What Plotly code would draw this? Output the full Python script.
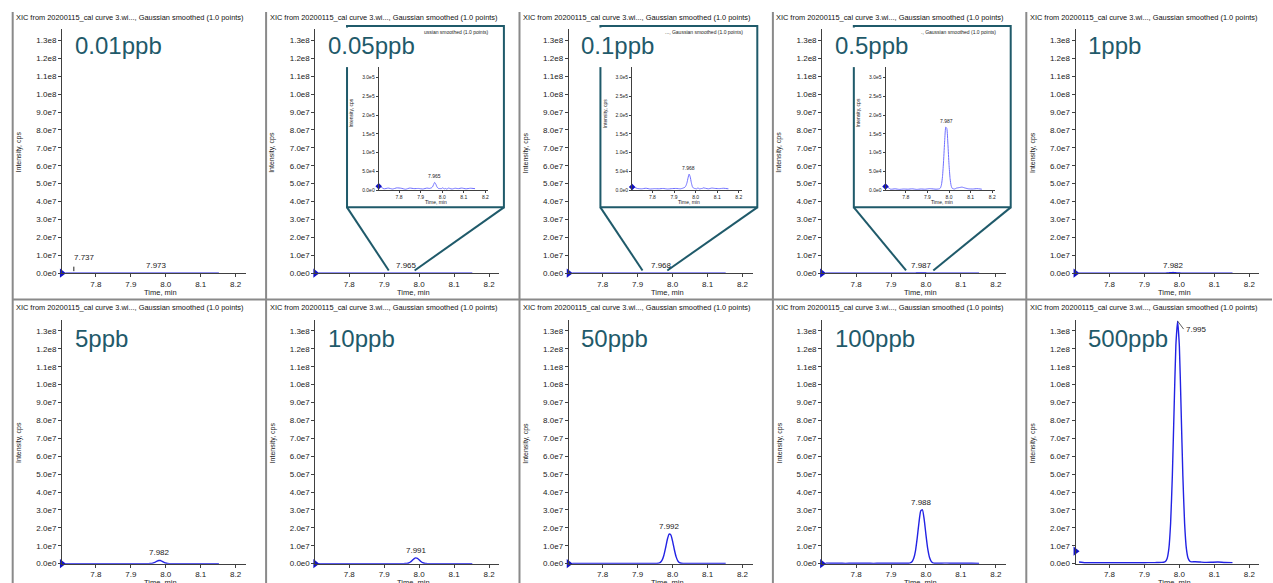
import plotly.graph_objects as go

W, H = 1273, 583          # reference frame (pixels) used for placing elements
FIG_H = 589               # figure height (compensates the slight vertical squeeze of the capture)

# ---------------- data ----------------
rt = [7.713, 7.73, 7.75, 7.77, 7.79, 7.81, 7.83, 7.85, 7.87, 7.89, 7.91, 7.93, 7.94,
      7.95, 7.955, 7.96, 7.965, 7.97, 7.975, 7.98, 7.985, 7.99, 7.995, 8.0, 8.005,
      8.01, 8.015, 8.02, 8.025, 8.03, 8.035, 8.045, 8.06, 8.075, 8.09, 8.11, 8.13, 8.152]

samples = ["0.01ppb", "0.05ppb", "0.1ppb", "0.5ppb", "1ppb",
           "5ppb", "10ppb", "50ppb", "100ppb", "500ppb"]

int_001 = [1500, 2200, 1800, 2500, 1600, 2100, 1900, 2300, 1700, 2000, 2400, 1800, 2100,
           2600, 3000, 3600, 4200, 4800, 5000, 4500, 3800, 3000, 2500, 2100, 1900,
           2200, 2000, 1800, 2100, 1900, 2300, 2000, 1700, 2200, 1900, 2100, 1800, 2000]
int_005 = [11000, 4000, 6000, 3500, 6500, 5500, 3000, 6000, 4500, 5000, 3500, 6000, 5000,
           6500, 9000, 15000, 21000, 17000, 10000, 6000, 4500, 5000, 4000, 6500, 5500,
           4000, 5000, 3500, 4500, 6000, 5000, 3500, 5500, 4500, 6000, 4000, 5500, 4500]
int_01 = [9000, 5000, 4000, 5500, 3500, 4500, 4000, 5000, 3500, 4500, 5000, 4000, 5500,
          8000, 12000, 20000, 33000, 43000, 36000, 21000, 10000, 6000, 5000, 4500, 4000,
          6000, 5000, 3500, 5000, 4500, 6500, 5500, 4000, 6000, 5000, 4500, 5500, 4000]
int_05 = [10000, 3000, 4000, 2500, 3500, 3000, 4000, 2500, 3500, 3000, 4500, 3500, 3000,
          3500, 4000, 6000, 14500, 37000, 79000, 132000, 168000, 164000, 122000, 69000, 31000,
          12000, 5200, 4000, 3500, 4500, 6000, 7000, 8500, 6000, 4000, 3500, 4500, 3000]
int_1 = [12000, 5000, 6000, 4000, 5000, 6000, 4000, 5000, 6000, 4500, 5000, 6000, 5500,
         7000, 11000, 28000, 71000, 153000, 256000, 328000, 319000, 236000, 134000, 60000, 22000,
         9000, 6000, 5000, 6000, 5000, 7000, 8000, 9000, 6000, 5000, 6000, 5000, 4000]
int_5 = [25000, 15000, 18000, 14000, 16000, 15000, 17000, 14000, 16000, 15000, 17000, 16000, 18000,
         30000, 62000, 175000, 440000, 890000, 1420000, 1780000, 1735000, 1320000, 785000, 370000, 142000,
         50000, 24000, 18000, 16000, 17000, 19000, 22000, 24000, 18000, 16000, 17000, 15000, 14000]
int_10 = [30000, 25000, 28000, 24000, 26000, 25000, 27000, 24000, 26000, 25000, 27000, 26000, 28000,
          27000, 31000, 52000, 135000, 378000, 916000, 1773000, 2698000, 3210000, 2980000, 2160000, 1226000,
          551000, 206000, 74000, 36000, 27000, 28000, 32000, 34000, 28000, 26000, 27000, 25000, 24000]
int_50 = [150000, 100000, 110000, 95000, 105000, 100000, 110000, 95000, 105000, 100000, 110000, 105000, 115000,
          110000, 140000, 260000, 710000, 1950000, 4600000, 8800000, 13500000, 16500000, 16100000, 12600000, 7900000,
          3950000, 1600000, 580000, 220000, 125000, 110000, 130000, 150000, 120000, 105000, 110000, 100000, 95000]
int_100 = [300000, 200000, 220000, 190000, 210000, 200000, 220000, 190000, 210000, 200000, 220000, 210000, 230000,
           250000, 420000, 1070000, 2970000, 7200000, 14400000, 23000000, 29500000, 30100000, 24600000, 16100000, 8400000,
           3600000, 1300000, 490000, 260000, 220000, 230000, 260000, 300000, 240000, 210000, 220000, 200000, 190000]
int_500 = [900000, 500000, 550000, 480000, 520000, 500000, 540000, 480000, 520000, 500000, 560000, 600000, 650000,
           700000, 800000, 1200000, 2900000, 8500000, 22700000, 49500000, 87000000, 122000000, 135500000, 121500000, 86000000,
           49000000, 22500000, 8500000, 3000000, 1400000, 1000000, 1100000, 900000, 700000, 750000, 900000, 650000, 600000]

series = [int_001, int_005, int_01, int_05, int_1, int_5, int_10, int_50, int_100, int_500]
for s in series:
    assert len(s) == len(rt)

peak_rt = [7.973, 7.965, 7.968, 7.987, 7.982, 7.982, 7.991, 7.992, 7.988, 7.995]
peak_text = ["7.973", "7.965", "7.968", "7.987", "7.982", "7.982", "7.991", "7.992", "7.988", "7.995"]
spike_rt = 7.737
spike_text = "7.737"
arrow_level = [0, 0, 0, 0, 0, 0, 0, 0, 0, 7.0e6]

y_ticks = [0, 1e7, 2e7, 3e7, 4e7, 5e7, 6e7, 7e7, 8e7, 9e7, 1e8, 1.1e8, 1.2e8, 1.3e8]
y_tick_text = ["0.0e0", "1.0e7", "2.0e7", "3.0e7", "4.0e7", "5.0e7", "6.0e7", "7.0e7",
               "8.0e7", "9.0e7", "1.0e8", "1.1e8", "1.2e8", "1.3e8"]
x_ticks = [7.8, 7.9, 8.0, 8.1, 8.2]
x_tick_text = ["7.8", "7.9", "8.0", "8.1", "8.2"]

inset_panels = [1, 2, 3]
inset_y_ticks = [0, 5e4, 1e5, 1.5e5, 2e5, 2.5e5, 3e5]
inset_y_text = ["0.0e0", "5.0e4", "1.0e5", "1.5e5", "2.0e5", "2.5e5", "3.0e5"]
zoom_lo = [7.913, 7.914, 7.943]
zoom_hi = [7.987, 7.985, 8.021]
inset_titles = ["ussian smoothed (1.0 points)", "..., Gaussian smoothed (1.0 points)",
                "., Gaussian smoothed (1.0 points)"]
panel_title = "XIC from 20200115_cal curve 3.wi..., Gaussian smoothed (1.0 points)"

# ---------------- styling / layout ----------------
FONT = "Liberation Sans, Arial, sans-serif"
TEAL = "#1f5a6a"
MAIN_BLUE = "#2222e4"
INSET_BLUE = "#6f6fff"
AX = "#404040"
X_RANGE = [7.703, 8.229]
Y_RANGE = [0, 1.362e8]
IX_RANGE = [7.706, 8.214]
IY_RANGE = [0, 3.28e5]
COL0, COLW, ROWH = 12.7, 253.6, 290.0


def fx(px):
    return px / W


def fy(py):
    return 1 - py / H


def sfx(n):
    return "" if n == 1 else str(n)


def paper_text(text, px, py, size, color="#222222", xanchor="center", yanchor="middle", angle=0):
    return dict(text=text, x=fx(px), y=fy(py), xref="paper", yref="paper", xanchor=xanchor,
                yanchor=yanchor, textangle=angle, showarrow=False,
                font=dict(family=FONT, size=size, color=color))


fig = go.Figure()
annotations, shapes, axes = [], [], {}


def axis_style(size, ticklen):
    return dict(showline=True, linecolor=AX, linewidth=1, ticks="outside", ticklen=ticklen,
                tickwidth=1, tickcolor=AX, showgrid=False, zeroline=False, fixedrange=True,
                tickfont=dict(family=FONT, size=size, color="#222222"))


for i, (name, vals) in enumerate(zip(samples, series)):
    r, c = divmod(i, 5)
    cb = COL0 + COLW * c
    oy = ROWH * r
    n = i + 1
    xa, ya = "x" + sfx(n), "y" + sfx(n)
    fig.add_trace(go.Scatter(x=rt, y=vals, mode="lines", xaxis=xa, yaxis=ya,
                             line=dict(color=MAIN_BLUE, width=1.4, shape="spline", smoothing=0.5),
                             hoverinfo="skip", showlegend=False))
    fig.add_trace(go.Scatter(x=[X_RANGE[0]], y=[arrow_level[i]], mode="markers", xaxis=xa, yaxis=ya,
                             marker=dict(symbol="triangle-right", size=8, color="#1212c8"),
                             cliponaxis=False, hoverinfo="skip", showlegend=False))
    axes["xaxis" + sfx(n)] = dict(domain=[fx(cb + 49.3), fx(cb + 233.3)], range=X_RANGE, anchor=ya,
                                  tickvals=x_ticks, ticktext=x_tick_text, **axis_style(8, 3))
    axes["yaxis" + sfx(n)] = dict(domain=[fy(oy + 272.7), fy(oy + 29.3)], range=Y_RANGE, anchor=xa,
                                  tickvals=y_ticks, ticktext=y_tick_text, **axis_style(8, 3))
    annotations.append(paper_text(panel_title, cb + 1.5, oy + 17, 7.4, "#111111", xanchor="left"))
    annotations.append(paper_text("Intensity, cps", cb + 6.5, oy + 152, 7, angle=-90))
    annotations.append(paper_text("Time, min", cb + 148, oy + 291.7, 7.5))
    annotations.append(paper_text(name, cb + 60, oy + 45 + 3 * r, 24, TEAL, xanchor="left"))
    if i == 9:
        annotations.append(dict(text=peak_text[i], x=peak_rt[i], y=max(vals), xref=xa, yref=ya,
                                xanchor="left", yanchor="middle", showarrow=True, arrowhead=0,
                                arrowwidth=0.8, arrowcolor="#333333", ax=6, ay=8, standoff=0,
                                font=dict(family=FONT, size=8, color="#222222")))
    else:
        annotations.append(dict(text=peak_text[i], x=peak_rt[i], y=max(vals), xref=xa, yref=ya,
                                xanchor="center", yanchor="bottom", showarrow=False, yshift=1,
                                font=dict(family=FONT, size=8, color="#222222")))
    if i == 0:
        annotations.append(dict(text=spike_text, x=spike_rt, y=0, xref=xa, yref=ya, xanchor="left",
                                yanchor="bottom", showarrow=False, yshift=9, xshift=-2,
                                font=dict(family=FONT, size=8, color="#222222")))
        annotations.append(dict(text="", x=spike_rt, y=0, xref=xa, yref=ya, showarrow=True, arrowhead=0,
                                arrowwidth=1, arrowcolor="#222222", ax=0, ay=-8, standoff=2))

# ---------------- insets ----------------
for k, idx in enumerate(inset_panels):
    cb = COL0 + COLW * idx
    vals = series[idx]
    n = 11 + k
    xa, ya = "x" + sfx(n), "y" + sfx(n)
    fig.add_trace(go.Scatter(x=rt, y=vals, mode="lines", xaxis=xa, yaxis=ya,
                             line=dict(color=INSET_BLUE, width=1, shape="spline", smoothing=0.5),
                             hoverinfo="skip", showlegend=False))
    fig.add_trace(go.Scatter(x=[IX_RANGE[0]], y=[vals[0]], mode="markers", xaxis=xa, yaxis=ya,
                             marker=dict(symbol="diamond", size=5, color="#1010c0"),
                             cliponaxis=False, hoverinfo="skip", showlegend=False))
    axes["xaxis" + sfx(n)] = dict(domain=[fx(cb + 112.7), fx(cb + 222.5)], range=IX_RANGE, anchor=ya,
                                  tickvals=x_ticks, ticktext=x_tick_text, **axis_style(5, 2))
    axes["yaxis" + sfx(n)] = dict(domain=[fy(190), fy(66.7)], range=IY_RANGE, anchor=xa,
                                  tickvals=inset_y_ticks, ticktext=inset_y_text, **axis_style(5, 2))
    shapes.append(dict(type="rect", xref="paper", yref="paper", x0=fx(cb + 81), x1=fx(cb + 238),
                       y0=fy(207), y1=fy(26), line=dict(color=TEAL, width=2)))
    # the big sample label sits over the upper part of the inset's left border
    shapes.append(dict(type="rect", xref="paper", yref="paper", x0=fx(cb + 78), x1=fx(cb + 84),
                       y0=fy(67), y1=fy(27.5), line=dict(width=0), fillcolor="white"))

    def main_px(t, cb=cb):
        return cb + 49.3 + (t - X_RANGE[0]) / (X_RANGE[1] - X_RANGE[0]) * 184.0

    shapes.append(dict(type="line", xref="paper", yref="paper", x0=fx(cb + 81), y0=fy(207),
                       x1=fx(main_px(zoom_lo[k])), y1=fy(270), line=dict(color=TEAL, width=2)))
    shapes.append(dict(type="line", xref="paper", yref="paper", x0=fx(cb + 238), y0=fy(207),
                       x1=fx(main_px(zoom_hi[k])), y1=fy(270), line=dict(color=TEAL, width=2)))
    annotations.append(paper_text(inset_titles[k], cb + 225.4, 31.7, 5, xanchor="right"))
    annotations.append(paper_text("Intensity, cps", cb + 85.4, 113, 5, angle=-90))
    annotations.append(paper_text("Time, min", cb + 169.7, 202, 5))
    annotations.append(dict(text=peak_text[idx], x=peak_rt[idx], y=max(vals), xref=xa, yref=ya,
                            xanchor="center", yanchor="bottom", showarrow=False, yshift=1,
                            font=dict(family=FONT, size=5, color="#222222")))

# ---------------- panel separators ----------------
sep = dict(color="#8a8a8a", width=2)
for c in range(5):
    xpx = COL0 + COLW * c
    shapes.append(dict(type="line", xref="paper", yref="paper", x0=fx(xpx), x1=fx(xpx),
                       y0=fy(12), y1=0, line=sep))
shapes.append(dict(type="line", xref="paper", yref="paper", x0=fx(COL0), x1=1,
                   y0=fy(299), y1=fy(299), line=sep))

fig.update_layout(width=W, height=FIG_H, margin=dict(l=0, r=0, t=0, b=0),
                  paper_bgcolor="white", plot_bgcolor="white", showlegend=False,
                  annotations=annotations, shapes=shapes, **axes)

post = (
    "document.documentElement.style.overflow='hidden';"
    "document.body.style.margin='0px';document.body.style.padding='0px';"
    "document.body.style.overflow='hidden';"
)
fig.write_html("out.html", config={"displayModeBar": False}, post_script=post)
